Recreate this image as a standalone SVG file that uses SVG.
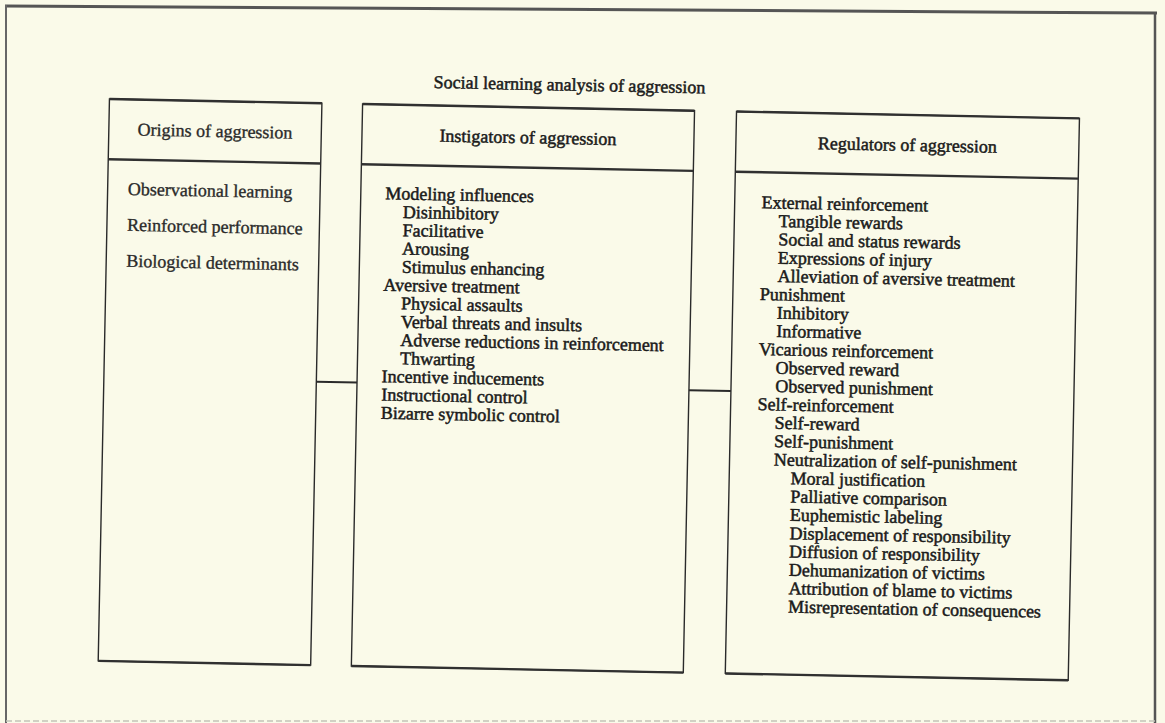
<svg xmlns="http://www.w3.org/2000/svg" width="1165" height="723" viewBox="0 0 1165 723">
<style>
.t{font-family:"Liberation Serif","Times New Roman",serif;font-size:18px;fill:#1a1a1a;stroke:#1a1a1a;stroke-width:0.5px}
.tl{font-family:"Liberation Serif","Times New Roman",serif;font-size:18px;fill:#2a2a2a;stroke:#2a2a2a;stroke-width:0.35px}
.c{text-anchor:middle}
.box{fill:none;stroke:#2a2a2a;stroke-width:1.4}
.hl{fill:none;stroke:#303030;stroke-width:2.4}
.conn{stroke:#2a2a2a;stroke-width:2;fill:none}
</style>
<rect width="1165" height="723" fill="#fafae9"/>
<g id="frame">
<line x1="5" y1="6" x2="1157" y2="13" stroke="#555" stroke-width="3"/>
<line x1="6" y1="5" x2="6" y2="723" stroke="#666" stroke-width="2"/>
<line x1="1155" y1="12" x2="1155" y2="723" stroke="#555" stroke-width="2.5"/>
<line x1="6" y1="721" x2="1155" y2="721" stroke="#c4c4b8" stroke-width="1.5" stroke-dasharray="6 3"/>
</g>
<g transform="rotate(1.146 582 361)">
<text id="title" class="t c" x="564" y="91">Social learning analysis of aggression</text>
<g id="origins">
<rect class="box" x="104.3" y="108.5" width="212.5" height="562"/>
<line class="hl" x1="104.3" y1="108.5" x2="316.8" y2="108.5"/>
<line class="hl" x1="104.3" y1="168.7" x2="316.8" y2="168.7"/>
<line class="hl" x1="104.3" y1="670.5" x2="316.8" y2="670.5"/>
<text class="tl c" x="210.5" y="144.5">Origins of aggression</text>
<text class="tl" x="124.5" y="204">Observational learning</text>
<text class="tl" x="124.5" y="240">Reinforced performance</text>
<text class="tl" x="124.5" y="276">Biological determinants</text>
</g>
<g id="instigators">
<rect class="box" x="357.5" y="108.5" width="332" height="562"/>
<line class="hl" x1="357.5" y1="108.5" x2="689.5" y2="108.5"/>
<line class="hl" x1="357.5" y1="168.7" x2="689.5" y2="168.7"/>
<line class="hl" x1="357.5" y1="670.5" x2="689.5" y2="670.5"/>
<text class="t c" x="523.5" y="144.5">Instigators of aggression</text>
<text class="t" y="203.2">
<tspan x="382">Modeling influences</tspan>
<tspan x="400" dy="18.3">Disinhibitory</tspan>
<tspan x="400" dy="18.3">Facilitative</tspan>
<tspan x="400" dy="18.3">Arousing</tspan>
<tspan x="400" dy="18.3">Stimulus enhancing</tspan>
<tspan x="382" dy="18.3">Aversive treatment</tspan>
<tspan x="400" dy="18.3">Physical assaults</tspan>
<tspan x="400" dy="18.3">Verbal threats and insults</tspan>
<tspan x="400" dy="18.3">Adverse reductions in reinforcement</tspan>
<tspan x="400" dy="18.3">Thwarting</tspan>
<tspan x="382" dy="18.3">Incentive inducements</tspan>
<tspan x="382" dy="18.3">Instructional control</tspan>
<tspan x="382" dy="18.3">Bizarre symbolic control</tspan>
</text>
</g>
<g id="regulators">
<rect class="box" x="731.5" y="108.5" width="343" height="562"/>
<line class="hl" x1="731.5" y1="108.5" x2="1074.5" y2="108.5"/>
<line class="hl" x1="731.5" y1="168.7" x2="1074.5" y2="168.7"/>
<line class="hl" x1="731.5" y1="670.5" x2="1074.5" y2="670.5"/>
<text class="t c" x="903" y="144.5">Regulators of aggression</text>
<text class="t" y="204.7">
<tspan x="758.5">External reinforcement</tspan>
<tspan x="775.8" dy="18.35">Tangible rewards</tspan>
<tspan x="775.8" dy="18.35">Social and status rewards</tspan>
<tspan x="775.8" dy="18.35">Expressions of injury</tspan>
<tspan x="775.8" dy="18.35">Alleviation of aversive treatment</tspan>
<tspan x="758.5" dy="18.35">Punishment</tspan>
<tspan x="775.8" dy="18.35">Inhibitory</tspan>
<tspan x="775.8" dy="18.35">Informative</tspan>
<tspan x="758.5" dy="18.35">Vicarious reinforcement</tspan>
<tspan x="775.8" dy="18.35">Observed reward</tspan>
<tspan x="775.8" dy="18.35">Observed punishment</tspan>
<tspan x="758.5" dy="18.35">Self-reinforcement</tspan>
<tspan x="775.8" dy="18.35">Self-reward</tspan>
<tspan x="775.8" dy="18.35">Self-punishment</tspan>
<tspan x="775.8" dy="18.35">Neutralization of self-punishment</tspan>
<tspan x="793" dy="18.35">Moral justification</tspan>
<tspan x="793" dy="18.35">Palliative comparison</tspan>
<tspan x="793" dy="18.35">Euphemistic labeling</tspan>
<tspan x="793" dy="18.35">Displacement of responsibility</tspan>
<tspan x="793" dy="18.35">Diffusion of responsibility</tspan>
<tspan x="793" dy="18.35">Dehumanization of victims</tspan>
<tspan x="793" dy="18.35">Attribution of blame to victims</tspan>
<tspan x="793" dy="18.35">Misrepresentation of consequences</tspan>
</text>
</g>
<g id="connectors">
<line class="conn" x1="316.8" y1="387" x2="357.5" y2="387"/>
<line class="conn" x1="689.5" y1="388" x2="731.5" y2="388"/>
</g>
</g>
</svg>
